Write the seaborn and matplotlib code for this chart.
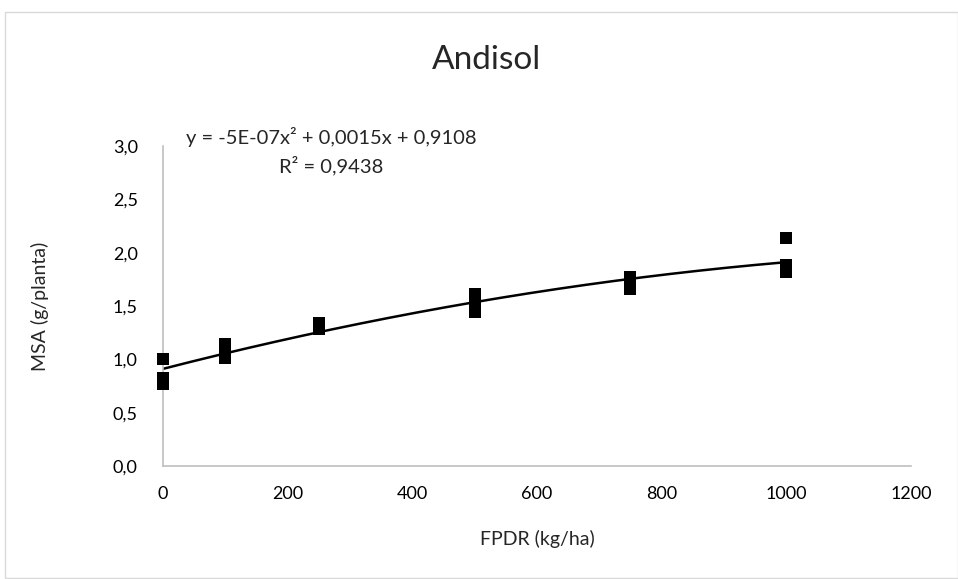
import numpy as np
import pandas as pd
import matplotlib
matplotlib.use("Agg")
import matplotlib.pyplot as plt
from matplotlib.ticker import FuncFormatter
from matplotlib.patches import Rectangle
import seaborn as sns

# doses de FPDR e massa seca (4 repeticoes)
doses = [0, 0, 0, 0, 100, 100, 100, 100, 250, 250, 250, 250,
         500, 500, 500, 500, 750, 750, 750, 750, 1000, 1000, 1000, 1000]
msa = [1.00, 0.83, 0.80, 0.77, 1.14, 1.10, 1.05, 1.01, 1.34, 1.31, 1.29, 1.28,
       1.61, 1.58, 1.55, 1.44, 1.77, 1.74, 1.70, 1.66, 2.14, 1.88, 1.85, 1.82]

# coeficientes da linha de tendencia (polinomial grau 2)
coef = [-5e-07, 0.0015, 0.9108]
r2 = 0.9438

df = pd.DataFrame({"FPDR": doses, "MSA": msa})
xs = np.linspace(0, 1000, 200)
curva = pd.DataFrame({"FPDR": xs, "MSA": np.polyval(coef, xs)})

sns.set_style("white")
plt.rcParams["font.family"] = ["Lato", "DejaVu Sans"]

fig = plt.figure(figsize=(9.58, 5.79), dpi=100)
ax = fig.add_axes([0.170, 0.195, 0.781, 0.553])

sns.lineplot(data=curva, x="FPDR", y="MSA", color="black", linewidth=1.8, ax=ax)
sns.scatterplot(data=df, x="FPDR", y="MSA", marker="s", color="black",
                s=70, edgecolor="black", linewidth=0, ax=ax, zorder=3, clip_on=False)

ax.set_xlim(0, 1200)
ax.set_ylim(0, 3)
ax.set_xticks(range(0, 1201, 200))
ax.set_yticks(np.arange(0, 3.01, 0.5))
ax.yaxis.set_major_formatter(FuncFormatter(lambda v, p: f"{v:.1f}".replace(".", ",")))
ax.tick_params(axis="both", length=0, labelsize=13, labelcolor="black")
ax.tick_params(axis="x", pad=14)
ax.tick_params(axis="y", pad=18)

for s in ["top", "right"]:
    ax.spines[s].set_visible(False)
for s in ["left", "bottom"]:
    ax.spines[s].set_color("#BFBFBF")
    ax.spines[s].set_linewidth(1.2)

ax.set_xlabel("FPDR (kg/ha)", fontsize=14)
ax.set_ylabel("MSA (g/planta)", fontsize=14)
ax.xaxis.set_label_coords(0.5, -0.20)
ax.yaxis.set_label_coords(-0.152, 0.5)

fig.text(0.508, 0.896, "Andisol", fontsize=24, ha="center", va="center")
eq = ("y = -5E-07x² + " + f"{coef[1]:.4f}".replace(".", ",") + "x + "
      + f"{coef[2]:.4f}".replace(".", ","))
fig.text(0.346, 0.763, eq, fontsize=14.5, ha="center", va="center")
fig.text(0.346, 0.714, "R² = " + f"{r2:.4f}".replace(".", ","), fontsize=14.5,
         ha="center", va="center")

fig.patches.append(Rectangle((0.005, 0.002), 0.995, 0.978, transform=fig.transFigure,
                             fill=False, edgecolor="#D9D9D9", linewidth=1))

fig.savefig("out.png", dpi=100)
